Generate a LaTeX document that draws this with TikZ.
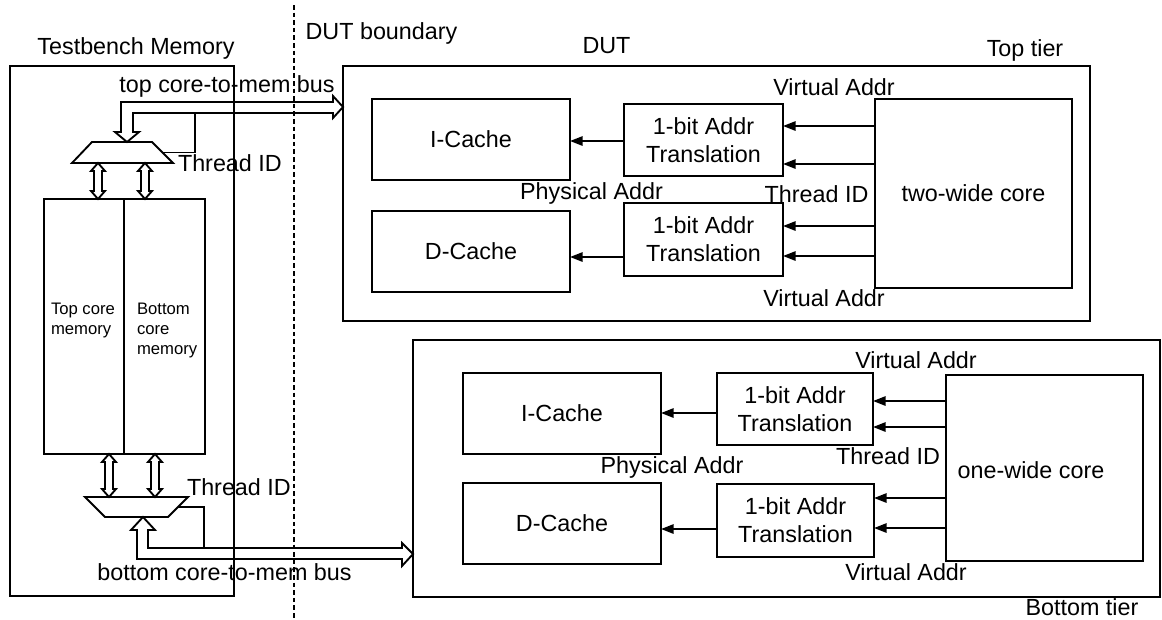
\documentclass[tikz,border=0pt]{standalone}
\usepackage{fontspec}
\setmainfont{Liberation Sans}
\usetikzlibrary{arrows.meta,calc}

\newcommand\lblfont{\fontsize{17.5}{21}\selectfont}
\newcommand\smallfont{\fontsize{12.5}{15}\selectfont}

\tikzset{
  blk/.style={draw, line width=1.4pt, inner sep=0pt, outer sep=0pt, align=center, font=\lblfont},
  lbl/.style={inner sep=0pt, outer sep=0pt, font=\lblfont},
  sig/.style={line width=1.5pt, -{Triangle[length=9.5pt,width=7pt]}},
  bus/.style={line width=1.4pt, line join=miter},
  wire/.style={line width=1.4pt},
  boundary/.style={line width=0.9pt, dash pattern=on 3.5pt off 2.2pt},
}

% block given by its corners (x1,y1) (x2,y2)
\newcommand\blk[6]{\node[blk, minimum width={(#4-#2)*0.75pt}, minimum height={(#5-#3)*0.75pt}] (#1) at ({(#2+#4)/2},{(#3+#5)/2}) {#6};}
% hollow two-headed vertical arrow between two tips
\newcommand\dblarrow[2]{\draw[bus] (#1) -- ++(7,8) -- ++(-3,0) -- ($(#2)+(4,-8)$) -- ++(3,0) -- (#2) -- ++(-7,-8) -- ++(3,0) -- ($(#1)+(-4,8)$) -- ++(-3,0) -- cycle;}

\begin{document}
\begin{tikzpicture}[x=0.75pt,y=-0.75pt]
\useasboundingbox (0,0) rectangle (1162,619);

% ---------------- testbench memory ----------------
\blk{tb}{10}{66}{234}{596}{}
\blk{mem}{44}{199}{205}{454}{}
\draw[wire] (124,0 |- mem.north) -- (124,0 |- mem.south);
\node[lbl, font=\smallfont, align=left, anchor=north west] (topmem) at (51,303) {Top core\\memory};
\node[lbl, font=\smallfont, align=left, anchor=north west] (botmem) at (137,303) {Bottom\\core\\memory};

% multiplexers
\coordinate (mxA1) at (92,142);
\coordinate (mxA2) at (152,142);
\coordinate (mxA3) at (173,163);
\coordinate (mxA4) at (72,163);
\draw[wire, line join=miter] (mxA1) -- (mxA2) -- (mxA3) -- (mxA4) -- cycle;
\coordinate (mxB1) at (85,497);
\coordinate (mxB2) at (188,497);
\coordinate (mxB3) at (168,517);
\coordinate (mxB4) at (105,517);
\draw[wire, line join=miter] (mxB1) -- (mxB2) -- (mxB3) -- (mxB4) -- cycle;

% mux <-> memory ports
\coordinate (pa1) at (98,163);
\coordinate (pa2) at (145,163);
\coordinate (pb1) at (109,497);
\coordinate (pb2) at (155,497);
\coordinate (ma1) at (98,0 |- mem.north);
\coordinate (ma2) at (145,0 |- mem.north);
\coordinate (mb1) at (109,0 |- mem.south);
\coordinate (mb2) at (155,0 |- mem.south);
\dblarrow{pa1}{ma1}
\dblarrow{pa2}{ma2}
\dblarrow{mb1}{pb1}
\dblarrow{mb2}{pb2}

% ---------------- tiers ----------------
\blk{top}{343}{66}{1090}{321}{}
\blk{bot}{413}{340}{1160}{597}{}

% top tier
\blk{ic1}{372}{99}{570}{180}{I-Cache}
\blk{dc1}{372}{211}{570}{292}{D-Cache}
\blk{tr1a}{624}{104}{783}{176}{1-bit Addr\\Translation}
\blk{tr1b}{624}{203}{783}{276}{1-bit Addr\\Translation}
\blk{core1}{875}{99}{1072}{288}{two-wide core}
\foreach \y in {126,164} \draw[sig] (core1.west |- 0,\y) -- (tr1a.east |- 0,\y);
\foreach \y in {226,256} \draw[sig] (core1.west |- 0,\y) -- (tr1b.east |- 0,\y);
\draw[sig] (tr1a.west |- 0,141) -- (ic1.east |- 0,141);
\draw[sig] (tr1b.west |- 0,257) -- (dc1.east |- 0,257);

% bottom tier
\blk{ic2}{463}{373}{661}{454}{I-Cache}
\blk{dc2}{463}{483}{661}{564}{D-Cache}
\blk{tr2a}{717}{373}{873}{445}{1-bit Addr\\Translation}
\blk{tr2b}{717}{484}{874}{557}{1-bit Addr\\Translation}
\blk{core2}{946}{375}{1143}{561}{}
\node[lbl] (core2l) at (1031,470) {one-wide core};
\foreach \y in {401,427} \draw[sig] (core2.west |- 0,\y) -- (tr2a.east |- 0,\y);
\foreach \y in {498,528} \draw[sig] (core2.west |- 0,\y) -- (tr2b.east |- 0,\y);
\draw[sig] (tr2a.west |- 0,413) -- (ic2.east |- 0,413);
\draw[sig] (tr2b.west |- 0,529) -- (dc2.east |- 0,529);

% ---------------- core-to-memory buses ----------------
\coordinate (tbusd) at (127,142);
\coordinate (tbusr) at (top.west |- 0,107);
\draw[bus] (tbusd) -- ++(-12,-10) -- ++(6,0) |- ($(tbusr)+(-10,-5)$) -- ++(0,-6) -- (tbusr)
  -- ++(-10,11) -- ++(0,-5) -| ($(tbusd)+(6,-10)$) -- ++(6,0) -- cycle;
\coordinate (tid1) at (195,113);
\draw[wire] (tid1) |- ($(mxA2)!0.5!(mxA3)$);

\coordinate (bbusu) at (143,517);
\coordinate (bbusr) at (bot.west |- 0,554);
\draw[bus] (bbusu) -- ++(12,13) -- ++(-7,0) |- ($(bbusr)+(-11,-6)$) -- ++(0,-5) -- (bbusr)
  -- ++(-11,12) -- ++(0,-7) -| ($(bbusu)+(-6,13)$) -- ++(-6,0) -- cycle;
\coordinate (tid2) at (204,548);
\draw[wire] ($(mxB2)!0.5!(mxB3)$) -| (tid2);

% DUT boundary
\coordinate (bndt) at (294,5);
\coordinate (bndb) at (294,619);
\draw[boundary] (bndt) -- (bndb);

% ---------------- labels ----------------
\node[lbl] (tbl) at (136,48) {Testbench Memory};
\node[lbl] (dutb) at (381.5,33) {DUT boundary};
\node[lbl] (tbusl) at (227,86) {top core-to-mem bus};
\node[lbl, anchor=west] (tid1l) at (178,163) {Thread ID};
\node[lbl, anchor=west] (tid2l) at (187,487) {Thread ID};
\node[lbl] (bbusl) at (224.5,572) {bottom core-to-mem bus};
\node[lbl] (dutl) at (606.5,46) {DUT};
\node[lbl] (toptl) at (1025,50) {Top tier};
\node[lbl] (pa1l) at (591.5,193) {Physical Addr};
\node[lbl] (va1l) at (834,87) {Virtual Addr};
\node[lbl] (th1l) at (816.5,194) {Thread ID};
\node[lbl] (vb1l) at (824,298) {Virtual Addr};
\node[lbl] (pa2l) at (672,467) {Physical Addr};
\node[lbl] (va2l) at (916,360) {Virtual Addr};
\node[lbl] (th2l) at (888,456) {Thread ID};
\node[lbl] (vb2l) at (906,572) {Virtual Addr};
\node[lbl] (bottl) at (1082,607) {Bottom tier};
\end{tikzpicture}
\end{document}
